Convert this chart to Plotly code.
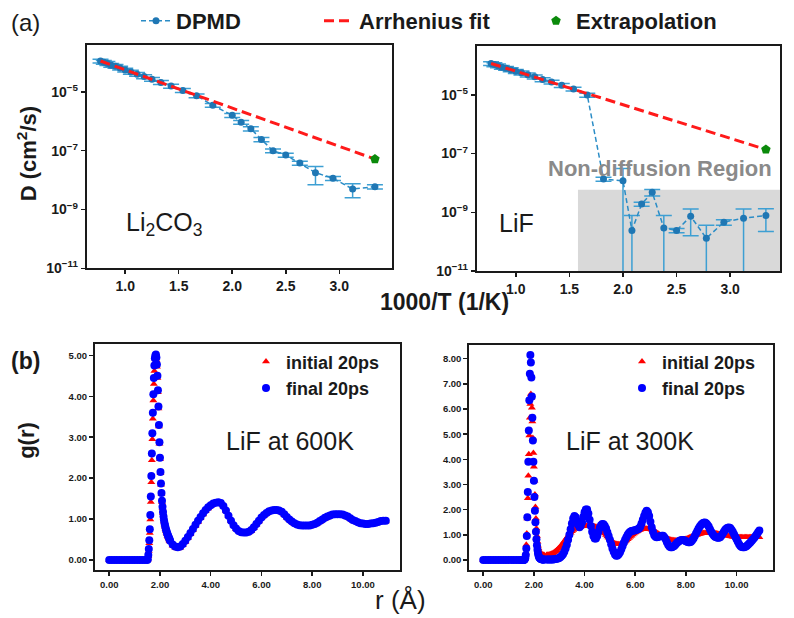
import plotly.graph_objects as go

FONT = "Liberation Sans, Arial, sans-serif"

# ---------------- (a) diffusion coefficients ----------------
temps_K = [1300, 1250, 1200, 1150, 1100, 1050, 1000, 950, 900, 850, 800, 750, 700,
           650, 600, 550, 500, 480, 460, 440, 420, 400, 380, 360, 340, 320, 300]

D_li2co3 = [1.12e-4, 1.02e-4, 9.3e-5, 8.1e-5, 7.4e-5, 6.5e-5, 5.5e-5, 4.7e-5, 4.0e-5,
            3.3e-5, 2.7e-5, 2.1e-5, 1.58e-5, 1.12e-5, 7.4e-6, 3.5e-6, 1.6e-6, 9.3e-7,
            5.6e-7, 2.4e-7, 1.0e-7, 7.1e-8, 3.8e-8, 1.8e-8, 1.15e-8, 5.0e-9, 6.0e-9]
Derr_li2co3 = [1.7e-5, 1.5e-5, 1.4e-5, 1.2e-5, 1.1e-5, 1.0e-5, 8e-6, 7e-6, 6e-6,
               5e-6, 4e-6, 3.2e-6, 2.4e-6, 1.7e-6, 1.1e-6, 5e-7, 2.5e-7, 1.4e-7,
               9e-8, 4e-8, 1.5e-8, 1.1e-8, 6e-9, 1.1e-8, 1.8e-9, 2.5e-9, 1.0e-9]

D_lif = [1.17e-4, 1.07e-4, 9.8e-5, 8.7e-5, 8.1e-5, 7.2e-5, 6.3e-5, 5.6e-5, 4.8e-5,
         4.1e-5, 3.3e-5, 2.75e-5, 2.1e-5, 1.58e-5, 9.8e-6, 1.35e-8, 1.18e-8, 2.4e-10,
         1.9e-9, 4.8e-9, 2.9e-10, 2.4e-10, 7.3e-10, 1.3e-10, 4.6e-10, 6.3e-10, 7.7e-10]
Derr_lif = [1.8e-5, 1.6e-5, 1.5e-5, 1.3e-5, 1.2e-5, 1.1e-5, 9.5e-6, 8.4e-6, 7.2e-6,
            6.2e-6, 5e-6, 4.1e-6, 3.2e-6, 2.4e-6, 1.5e-6, 2.0e-9, 1.9e-8, 5.3e-10,
            3e-10, 1.2e-9, 4.8e-10, 4e-11, 5.7e-10, 2.3e-10, 1e-10, 6.6e-10, 5.5e-10]

fit_T = [1300, 300]
fit_li2co3 = [1.12e-4, 5.2e-8]
fit_lif = [1.17e-4, 1.38e-7]
extrap_T = [300]
extrap_li2co3 = [5.2e-8]
extrap_lif = [1.38e-7]

nondiff_x = [1.58, 3.465]
nondiff_D = [1e-11, 5.8e-9]

D_ticks = [1e-11, 1e-9, 1e-7, 1e-5]
D_ticktext = ["10<sup>\u221211</sup>", "10<sup>\u22129</sup>",
              "10<sup>\u22127</sup>", "10<sup>\u22125</sup>"]

# ---------------- (b) radial distribution functions ----------------
r_head = [0.0, 0.1, 0.2, 0.3, 0.4, 0.5, 0.6, 0.7, 0.8, 0.9,
          1.0, 1.1, 1.2, 1.3, 1.4,
          1.50, 1.52, 1.54, 1.56, 1.58, 1.60, 1.62, 1.64, 1.66, 1.68,
          1.70, 1.72, 1.74, 1.76, 1.78, 1.80, 1.82, 1.84, 1.86, 1.88,
          1.90, 1.92, 1.94, 1.96, 1.98, 2.00, 2.02, 2.04, 2.06, 2.08,
          2.10, 2.12, 2.14, 2.16, 2.18, 2.20, 2.22, 2.24, 2.26, 2.28,
          2.30, 2.32, 2.34, 2.36, 2.38, 2.40]

r_tail_600 = [2.5, 2.6, 2.7, 2.8, 2.9, 3.0, 3.1, 3.2, 3.3, 3.4,
              3.5, 3.6, 3.7, 3.8, 3.9, 4.0, 4.1, 4.2, 4.3, 4.4,
              4.5, 4.6, 4.7, 4.8, 4.9, 5.0, 5.1, 5.2, 5.3, 5.4,
              5.5, 5.6, 5.7, 5.8, 5.9, 6.0, 6.1, 6.2, 6.3, 6.4,
              6.5, 6.6, 6.7, 6.8, 6.9, 7.0, 7.1, 7.2, 7.3, 7.4,
              7.5, 7.6, 7.7, 7.8, 7.9, 8.0, 8.1, 8.2, 8.3, 8.4,
              8.5, 8.6, 8.7, 8.8, 8.9, 9.0, 9.1, 9.2, 9.3, 9.4,
              9.5, 9.6, 9.7, 9.8, 9.9, 10.0, 10.1, 10.2, 10.3, 10.4,
              10.5, 10.6, 10.7, 10.8, 10.9]

r_tail_300 = [2.50, 2.55, 2.60, 2.65, 2.70, 2.75, 2.80, 2.85, 2.90, 2.95,
              3.00, 3.05, 3.10, 3.15, 3.20, 3.25, 3.30, 3.35, 3.40, 3.45,
              3.50, 3.55, 3.60, 3.65, 3.70, 3.75, 3.80, 3.85, 3.90, 3.95,
              4.00, 4.05, 4.10, 4.15, 4.20, 4.25, 4.30, 4.35, 4.40, 4.45,
              4.50, 4.55, 4.60, 4.65, 4.70, 4.75, 4.80, 4.85, 4.90, 4.95,
              5.00, 5.05, 5.10, 5.15, 5.20, 5.25, 5.30, 5.35, 5.40, 5.45,
              5.50, 5.55, 5.60, 5.65, 5.70, 5.75, 5.80, 5.85, 5.90, 5.95,
              6.00, 6.05, 6.10, 6.15, 6.20, 6.25, 6.30, 6.35, 6.40, 6.45,
              6.50, 6.55, 6.60, 6.65, 6.70, 6.75, 6.80, 6.85, 6.90, 6.95,
              7.00, 7.05, 7.10, 7.15, 7.20, 7.25, 7.30, 7.35, 7.40, 7.45,
              7.50, 7.55, 7.60, 7.65, 7.70, 7.75, 7.80, 7.85, 7.90, 7.95,
              8.00, 8.05, 8.10, 8.15, 8.20, 8.25, 8.30, 8.35, 8.40, 8.45,
              8.50, 8.55, 8.60, 8.65, 8.70, 8.75, 8.80, 8.85, 8.90, 8.95,
              9.00, 9.05, 9.10, 9.15, 9.20, 9.25, 9.30, 9.35, 9.40, 9.45,
              9.50, 9.55, 9.60, 9.65, 9.70, 9.75, 9.80, 9.85, 9.90, 9.95,
              10.00, 10.05, 10.10, 10.15, 10.20, 10.25, 10.30, 10.35, 10.40, 10.45,
              10.50, 10.55, 10.60, 10.65, 10.70, 10.75, 10.80, 10.85, 10.90]

g600_initial = [0, 0, 0, 0, 0, 0, 0, 0, 0, 0,
                0, 0, 0, 0, 0,
                0.0, 0.01, 0.09, 0.22, 0.41, 0.66, 0.99, 1.42, 1.9, 2.44,
                2.95, 3.45, 3.9, 4.3, 4.62, 4.82, 4.92, 4.94, 4.88, 4.72,
                4.45, 4.1, 3.7, 3.26, 2.84, 2.46, 2.12, 1.84, 1.61, 1.42,
                1.27, 1.14, 1.03, 0.94, 0.87, 0.81, 0.76, 0.71, 0.67, 0.63,
                0.59, 0.56, 0.53, 0.5, 0.47, 0.45,
                0.35, 0.30, 0.28, 0.30, 0.36, 0.44, 0.53, 0.63, 0.73, 0.83,
                0.93, 1.02, 1.11, 1.19, 1.26, 1.32, 1.36, 1.38, 1.39, 1.37,
                1.31, 1.20, 1.07, 0.95, 0.84, 0.76, 0.70, 0.66, 0.65, 0.65,
                0.67, 0.71, 0.78, 0.86, 0.94, 1.02, 1.08, 1.13, 1.17, 1.19,
                1.20, 1.20, 1.19, 1.16, 1.10, 1.03, 0.97, 0.92, 0.88, 0.85,
                0.83, 0.82, 0.82, 0.82, 0.82, 0.84, 0.86, 0.89, 0.93, 0.97,
                1.01, 1.04, 1.07, 1.09, 1.10, 1.10, 1.10, 1.09, 1.07, 1.04,
                1.00, 0.96, 0.93, 0.90, 0.88, 0.87, 0.86, 0.86, 0.87, 0.88,
                0.89, 0.91, 0.93, 0.94, 0.94]

g600_final = [0, 0, 0, 0, 0, 0, 0, 0, 0, 0,
              0, 0, 0, 0, 0,
              0.0, 0.02, 0.12, 0.27, 0.48, 0.75, 1.1, 1.55, 2.05, 2.6,
              3.1, 3.6, 4.05, 4.45, 4.75, 4.93, 5.0, 5.02, 4.95, 4.78,
              4.5, 4.15, 3.75, 3.3, 2.88, 2.5, 2.15, 1.87, 1.64, 1.45,
              1.3, 1.17, 1.06, 0.97, 0.9, 0.84, 0.79, 0.74, 0.7, 0.66,
              0.62, 0.59, 0.56, 0.53, 0.5, 0.47,
              0.38, 0.33, 0.31, 0.33, 0.39, 0.47, 0.56, 0.66, 0.76, 0.86,
              0.96, 1.05, 1.14, 1.22, 1.29, 1.34, 1.38, 1.40, 1.41, 1.39,
              1.32, 1.21, 1.08, 0.96, 0.85, 0.77, 0.71, 0.68, 0.67, 0.67,
              0.69, 0.73, 0.80, 0.88, 0.96, 1.04, 1.10, 1.15, 1.19, 1.21,
              1.22, 1.22, 1.21, 1.18, 1.12, 1.05, 0.99, 0.94, 0.90, 0.87,
              0.85, 0.84, 0.84, 0.84, 0.84, 0.86, 0.88, 0.91, 0.95, 0.99,
              1.03, 1.06, 1.09, 1.11, 1.12, 1.12, 1.12, 1.11, 1.09, 1.06,
              1.02, 0.98, 0.95, 0.92, 0.90, 0.89, 0.88, 0.88, 0.89, 0.90,
              0.91, 0.93, 0.95, 0.96, 0.96]

g300_initial = [0, 0, 0, 0, 0, 0, 0, 0, 0, 0,
                0, 0, 0, 0, 0,
                0, 0, 0, 0, 0, 0.01, 0.02, 0.05, 0.12, 0.28,
                0.6, 1.05, 1.65, 2.45, 3.35, 4.2, 4.95, 5.65, 6.2, 6.6,
                6.45, 6.05, 5.5, 4.85, 4.25, 3.7, 3.15, 2.6, 2.1, 1.65,
                1.25, 0.95, 0.72, 0.56, 0.45, 0.37, 0.32, 0.28, 0.25, 0.23,
                0.22, 0.21, 0.2, 0.2, 0.2, 0.2,
                0.2, 0.21, 0.22, 0.23, 0.25, 0.27, 0.3, 0.34, 0.38, 0.43,
                0.48, 0.54, 0.6, 0.67, 0.74, 0.81, 0.88, 0.95, 1.02, 1.08,
                1.14, 1.19, 1.23, 1.26, 1.29, 1.31, 1.32, 1.33, 1.34, 1.35,
                1.35, 1.36, 1.36, 1.36, 1.36, 1.36, 1.35, 1.34, 1.33, 1.32,
                1.3, 1.27, 1.24, 1.2, 1.15, 1.1, 1.05, 0.99, 0.93, 0.88,
                0.82, 0.77, 0.72, 0.68, 0.65, 0.63, 0.62, 0.62, 0.62, 0.64,
                0.66, 0.69, 0.73, 0.77, 0.82, 0.87, 0.92, 0.96, 1.01, 1.05,
                1.09, 1.12, 1.15, 1.18, 1.2, 1.22, 1.23, 1.24, 1.24, 1.24,
                1.24, 1.23, 1.22, 1.2, 1.18, 1.15, 1.12, 1.08, 1.05, 1.01,
                0.98, 0.95, 0.92, 0.89, 0.87, 0.85, 0.83, 0.81, 0.8, 0.79,
                0.78, 0.77, 0.77, 0.77, 0.77, 0.77, 0.78, 0.79, 0.8, 0.81,
                0.83, 0.85, 0.87, 0.89, 0.91, 0.93, 0.95, 0.97, 0.99, 1.0,
                1.02, 1.03, 1.05, 1.06, 1.07, 1.07, 1.08, 1.08, 1.08, 1.08,
                1.08, 1.07, 1.07, 1.06, 1.05, 1.04, 1.03, 1.02, 1.01, 1.0,
                0.99, 0.98, 0.97, 0.96, 0.95, 0.94, 0.93, 0.92, 0.92, 0.91,
                0.91, 0.9, 0.9, 0.9, 0.9, 0.9, 0.9, 0.9, 0.9, 0.9,
                0.9, 0.9, 0.9, 0.9, 0.9, 0.9, 0.9, 0.9, 0.9]

g300_final = [0, 0, 0, 0, 0, 0, 0, 0, 0, 0,
              0, 0, 0, 0, 0,
              0, 0, 0, 0, 0, 0.0, 0.01, 0.03, 0.08, 0.2,
              0.45, 0.95, 1.7, 2.7, 3.9, 5.15, 6.35, 7.4, 8.15, 7.85,
              7.25, 6.5, 5.65, 4.75, 3.9, 3.15, 2.5, 1.95, 1.5, 1.12,
              0.82, 0.58, 0.4, 0.28, 0.19, 0.13, 0.09, 0.07, 0.05, 0.04,
              0.03, 0.03, 0.02, 0.02, 0.02, 0.02,
              0.02, 0.02, 0.02, 0.02, 0.02, 0.02, 0.03, 0.04, 0.05, 0.06,
              0.08, 0.12, 0.17, 0.23, 0.32, 0.45, 0.6, 0.8, 1.0, 1.22,
              1.45, 1.65, 1.75, 1.7, 1.55, 1.4, 1.3, 1.36, 1.5, 1.72,
              1.9, 2.0, 2.0, 1.85, 1.6, 1.35, 1.12, 0.95, 0.85, 0.85,
              0.95, 1.12, 1.28, 1.38, 1.43, 1.42, 1.35, 1.25, 1.1, 0.95,
              0.8, 0.62, 0.45, 0.32, 0.22, 0.17, 0.18, 0.23, 0.3, 0.42,
              0.55, 0.68, 0.8, 0.9, 1.0, 1.07, 1.12, 1.15, 1.16, 1.17,
              1.18, 1.2, 1.22, 1.25, 1.32, 1.45, 1.6, 1.75, 1.88, 1.95,
              1.9, 1.75, 1.52, 1.3, 1.12, 0.98, 0.92, 0.9, 0.91, 0.93,
              0.95, 0.96, 0.96, 0.9, 0.82, 0.7, 0.6, 0.53, 0.5, 0.5,
              0.53, 0.56, 0.62, 0.68, 0.72, 0.76, 0.78, 0.79, 0.79, 0.77,
              0.74, 0.72, 0.7, 0.7, 0.72, 0.78, 0.85, 0.95, 1.05, 1.15,
              1.25, 1.33, 1.4, 1.45, 1.48, 1.49, 1.46, 1.4, 1.33, 1.22,
              1.12, 1.04, 0.97, 0.92, 0.9, 0.88, 0.88, 0.9, 0.96, 1.04,
              1.12, 1.2, 1.25, 1.28, 1.29, 1.27, 1.2, 1.12, 1.02, 0.92,
              0.82, 0.72, 0.62, 0.55, 0.51, 0.5, 0.5, 0.52, 0.55, 0.6,
              0.65, 0.7, 0.76, 0.82, 0.88, 0.95, 1.02, 1.1, 1.17]

r_ticks = [0, 2, 4, 6, 8, 10]

# ---------------- styling ----------------
DARK = "#1a1a1a"
MARK_BLUE = "#1f77b4"
EBAR_BLUE = "#3d9fd3"
LINE_BLUE = "#2a8cc6"
RED = "#ff1a1a"
GREEN = "#0b8a0b"

inv_T = [1000.0 / t for t in temps_K]
inv_fit = [1000.0 / t for t in fit_T]
inv_ext = [1000.0 / t for t in extrap_T]
r_600 = r_head + r_tail_600
r_300 = r_head + r_tail_300

fig = go.Figure()


def dpmd_trace(D, err, xa, ya, show):
    return go.Scatter(
        x=inv_T, y=D, xaxis=xa, yaxis=ya, mode="lines+markers", name="DPMD",
        legend="legend", showlegend=show,
        line=dict(color=LINE_BLUE, width=1.5, dash="5px,3px"),
        marker=dict(size=7, color=MARK_BLUE),
        error_y=dict(type="data", array=err, arrayminus=err, visible=True,
                     color=EBAR_BLUE, thickness=1.5, width=8))


def fit_trace(D, xa, ya, show):
    return go.Scatter(
        x=inv_fit, y=D, xaxis=xa, yaxis=ya, mode="lines", name="Arrhenius fit",
        legend="legend2", showlegend=show,
        line=dict(color=RED, width=3, dash="10px,5px"))


def ext_trace(D, xa, ya, show):
    return go.Scatter(
        x=inv_ext, y=D, xaxis=xa, yaxis=ya, mode="markers", name="Extrapolation",
        legend="legend3", showlegend=show,
        marker=dict(symbol="pentagon", size=10, color=GREEN))


fig.add_trace(dpmd_trace(D_li2co3, Derr_li2co3, "x", "y", True))
fig.add_trace(fit_trace(fit_li2co3, "x", "y", True))
fig.add_trace(ext_trace(extrap_li2co3, "x", "y", True))
fig.add_trace(dpmd_trace(D_lif, Derr_lif, "x2", "y2", False))
fig.add_trace(fit_trace(fit_lif, "x2", "y2", False))
fig.add_trace(ext_trace(extrap_lif, "x2", "y2", False))

# g(r) panels
for xa, ya, rr, gi, gf, leg in [("x3", "y3", r_600, g600_initial, g600_final, "legend4"),
                                ("x4", "y4", r_300, g300_initial, g300_final, "legend5")]:
    fig.add_trace(go.Scatter(x=rr, y=gi, xaxis=xa, yaxis=ya, mode="markers",
                             name="initial 20ps", legend=leg,
                             marker=dict(symbol="triangle-up", size=7, color="#ff0000",
                                         line=dict(width=0))))
    fig.add_trace(go.Scatter(x=rr, y=gf, xaxis=xa, yaxis=ya, mode="markers",
                             name="final 20ps", legend=leg,
                             marker=dict(symbol="circle", size=8, color="#0000ff",
                                         line=dict(width=0))))

axis_common = dict(showline=True, linewidth=2, linecolor=DARK, mirror=True,
                   ticks="outside", ticklen=4, tickwidth=1.5, tickcolor=DARK,
                   showgrid=False, zeroline=False)
top_tickfont = dict(family=FONT, size=14, color=DARK, weight="bold")
bot_tickfont = dict(family=FONT, size=9.5, color=DARK, weight="bold")


def dom(px0, px1, W=794):
    return [px0 / W, px1 / W]


def ydom(top_px, bot_px, H=618):
    return [1 - bot_px / H, 1 - top_px / H]


fig.update_layout(
    width=794, height=618, margin=dict(l=0, r=0, t=0, b=0),
    paper_bgcolor="white", plot_bgcolor="white", template="none",
    font=dict(family=FONT, color=DARK),
    xaxis=dict(domain=dom(86.7, 391.7), range=[0.64, 3.49], anchor="y",
               tickvals=[1.0, 1.5, 2.0, 2.5, 3.0], tickformat=".1f",
               tickfont=top_tickfont, **axis_common),
    yaxis=dict(domain=ydom(42, 266.7), type="log", range=[-11, -3.40], anchor="x",
               tickvals=D_ticks, ticktext=D_ticktext, tickfont=top_tickfont, **axis_common),
    xaxis2=dict(domain=dom(476.7, 780), range=[0.635, 3.465], anchor="y2",
                tickvals=[1.0, 1.5, 2.0, 2.5, 3.0], tickformat=".1f",
                tickfont=top_tickfont, **axis_common),
    yaxis2=dict(domain=ydom(43.3, 269.3), type="log", range=[-11, -3.34], anchor="x2",
                tickvals=D_ticks, ticktext=D_ticktext, tickfont=top_tickfont, **axis_common),
    xaxis3=dict(domain=dom(95, 400), range=[-0.56, 11.46], anchor="y3",
                tickvals=r_ticks, tickformat=".2f", tickfont=bot_tickfont, **axis_common),
    yaxis3=dict(domain=ydom(343, 570), range=[-0.25, 5.27], anchor="x3",
                dtick=1, tick0=0, tickformat=".2f", tickfont=bot_tickfont, **axis_common),
    xaxis4=dict(domain=dom(469.3, 773.3), range=[-0.55, 11.45], anchor="y4",
                tickvals=r_ticks, tickformat=".2f", tickfont=bot_tickfont, **axis_common),
    yaxis4=dict(domain=ydom(343.3, 570), range=[-0.41, 8.56], anchor="x4",
                dtick=1, tick0=0, tickformat=".2f", tickfont=bot_tickfont, **axis_common),
)

leg_font_top = dict(family=FONT, size=22, color=DARK, weight="bold")
leg_font_bot = dict(family=FONT, size=18, color=DARK, weight="bold")
leg_base = dict(xanchor="left", bgcolor="rgba(0,0,0,0)", borderwidth=0)
fig.update_layout(
    legend=dict(x=136 / 794, y=1 - 18 / 618, yanchor="middle", orientation="h",
                font=leg_font_top, **leg_base),
    legend2=dict(x=319 / 794, y=1 - 18 / 618, yanchor="middle", orientation="h",
                 font=leg_font_top, **leg_base),
    legend3=dict(x=536 / 794, y=1 - 18 / 618, yanchor="middle", orientation="h",
                 font=leg_font_top, **leg_base),
    legend4=dict(x=246 / 794, y=1 - 342 / 618, yanchor="top", font=leg_font_bot,
                 tracegroupgap=0, **leg_base),
    legend5=dict(x=622 / 794, y=1 - 342 / 618, yanchor="top", font=leg_font_bot,
                 tracegroupgap=0, **leg_base),
)

# Non-diffusion shaded region (LiF panel)
fig.add_shape(type="rect", xref="x2", yref="y2", x0=nondiff_x[0], x1=nondiff_x[1],
              y0=nondiff_D[0], y1=nondiff_D[1], fillcolor="#d9d9d9",
              line=dict(width=0), layer="below")


def ann(text, x, y, size, bold=False, color=DARK, angle=0):
    fig.add_annotation(text=text, x=x / 794, y=1 - y / 618, xref="paper", yref="paper",
                       showarrow=False, textangle=angle, xanchor="center", yanchor="middle",
                       font=dict(family=FONT, size=size, color=color,
                                 weight="bold" if bold else "normal"))


ann("(a)", 25, 20, 24)
ann("(b)", 25, 360, 23, bold=True)
ann("D (cm<sup>2</sup>/s)", 27, 152, 22, bold=True, angle=-90)
ann("1000/T (1/K)", 444, 300, 23, bold=True)
ann("Li<sub>2</sub>CO<sub>3</sub>", 164, 222, 25)
ann("LiF", 516, 221, 25)
ann("Non-diffusion Region", 660, 166, 22, bold=True, color="#8a8a8a")
ann("g(r)", 27, 440, 22, bold=True, angle=-90)
ann("r (\u00c5)", 400, 600, 26)
ann("LiF at 600K", 290, 440, 25)
ann("LiF at 300K", 630, 440, 25)

fig.write_html("out.html",
               config={"staticPlot": True, "displayModeBar": False},
               post_script="document.body.style.margin='0px';"
                           "document.body.style.overflow='hidden';")
